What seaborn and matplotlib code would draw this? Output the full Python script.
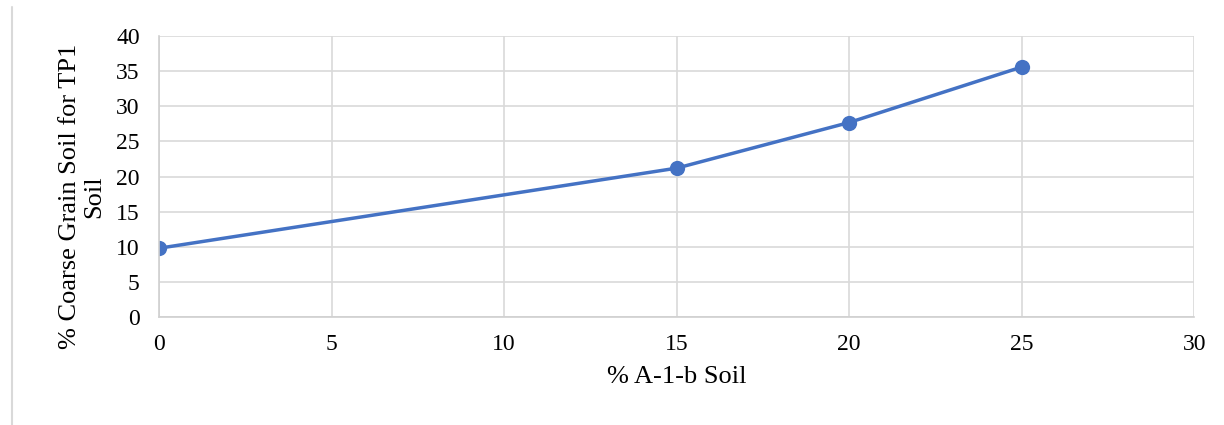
import matplotlib
matplotlib.use("Agg")
import matplotlib.pyplot as plt
from matplotlib.lines import Line2D
import seaborn as sns
import pandas as pd

a1b_soil = [0, 15, 20, 25]
coarse_grain = [9.8, 21.2, 27.7, 35.6]
x_ticks = [0, 5, 10, 15, 20, 25, 30]
y_ticks = [0, 5, 10, 15, 20, 25, 30, 35, 40]

df = pd.DataFrame({"x": a1b_soil, "y": coarse_grain})

sns.set_theme(style="whitegrid")
plt.rcParams['font.family'] = ['Liberation Serif', 'DejaVu Serif']

fig = plt.figure(figsize=(12.24, 4.25), dpi=100)
ax = fig.add_axes([0.130, 0.254, 0.8456, 0.661])

sns.lineplot(data=df, x="x", y="y", ax=ax, color="#4472C4", linewidth=2.5,
             marker="o", markersize=11, markeredgewidth=0, markeredgecolor="#4472C4")

ax.set_xlim(0, 30)
ax.set_ylim(0, 40)
ax.set_xticks(x_ticks)
ax.set_yticks(y_ticks)
ax.tick_params(axis="both", labelsize=17, colors="black", length=0)
ax.tick_params(axis="y", pad=14)
ax.tick_params(axis="x", pad=12)
ax.grid(True, color="#d9d9d9", linewidth=1.2)
for s in ["top", "right"]:
    ax.spines[s].set_visible(False)
for s in ["left", "bottom"]:
    ax.spines[s].set_color("#d0d0d0")
    ax.spines[s].set_linewidth(1.2)
ax.set_axisbelow(True)

ax.set_xlabel("% A-1-b Soil", fontsize=19, labelpad=8, color="black")
ax.set_ylabel("% Coarse Grain Soil for TP1\nSoil", fontsize=19,
              color="black", linespacing=1.15)
ax.yaxis.set_label_coords(-0.052, 0.43)

fig.add_artist(Line2D([12/1224, 12/1224], [0, 1 - 7/425], color="#d9d9d9",
                      linewidth=1.5, transform=fig.transFigure))

fig.savefig("out.png", dpi=100, facecolor="white")
